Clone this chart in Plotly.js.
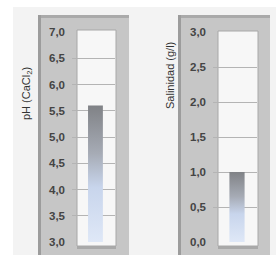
<!DOCTYPE html>
<html>
<head>
<meta charset="utf-8">
<script src="https://cdn.plot.ly/plotly-3.0.1.min.js"></script>
<style>html,body{margin:0;padding:0;background:#fff;}#chart{width:276px;height:255px;}</style>
</head>
<body>
<div id="chart"></div>
<script>
// Data
const phCategory = ['pH'];
const phValues = [5.6];
const salCategory = ['Salinidad'];
const salValues = [1.0];
const phTitle = 'pH (CaCl<sub>2</sub>)';
const salTitle = 'Salinidad (g/l)';
const phTicks = [3.0, 3.5, 4.0, 4.5, 5.0, 5.5, 6.0, 6.5, 7.0];
const salTicks = [0.0, 0.5, 1.0, 1.5, 2.0, 2.5, 3.0];

const W = 276, H = 255;
const px = x => x / W;
const py = y => 1 - y / H;
function rect(x0, y0, x1, y1, fill, line, lw) {
  return {type: 'rect', xref: 'paper', yref: 'paper', layer: 'below',
    x0: px(x0), x1: px(x1), y0: py(y1), y1: py(y0),
    fillcolor: fill, line: {color: line || fill, width: lw || 0}};
}
const shapes = [
  rect(13, 7, 276, 255, '#f3f3f3'),
  // left frame
  rect(38, 15, 129, 255, '#c6c6c6'),
  rect(38, 15, 129, 18, '#aaaaaa'),
  rect(38, 15, 41, 255, '#9c9c9c'),
  // right frame
  rect(178, 15, 270, 255, '#c6c6c6'),
  rect(178, 15, 270, 18, '#aaaaaa'),
  rect(178, 15, 181, 255, '#9c9c9c'),
  // tubes
  rect(77, 244, 116, 249, '#a9a9a9'),
  rect(77, 30, 116, 246, '#f7f7f7', '#a8a8a8', 1),
  rect(218, 244, 258, 249, '#a9a9a9'),
  rect(218, 31, 258, 246, '#f7f7f7', '#a8a8a8', 1)
];

const barStyle = {color: '#a0a8b8', line: {width: 0}};
const phBase = phTicks[0], salBase = salTicks[0];
const traces = [
  {type: 'bar', x: [0], y: phValues.map(v => v - phBase), base: [phBase], width: 0.38, marker: barStyle,
   xaxis: 'x', yaxis: 'y', hoverinfo: 'skip', name: phCategory[0]},
  {type: 'bar', x: [0], y: salValues.map(v => v - salBase), base: [salBase], width: 0.38, marker: barStyle,
   xaxis: 'x2', yaxis: 'y2', hoverinfo: 'skip', name: salCategory[0]}
];

const tickFont = {family: 'Liberation Sans, Arial, sans-serif', size: 11.5, color: '#444', weight: 'bold'};
const yCommon = {domain: [py(242), py(32)], dtick: 0.5, tickformat: '.1f', showgrid: true,
  gridcolor: '#b4b4b4', gridwidth: 1, zeroline: false, showline: false, ticks: '',
  ticklabelstandoff: 6, tickfont: tickFont, fixedrange: true};
const xCommon = {range: [-0.6, 0.5], showgrid: false, zeroline: false, showticklabels: false, showline: false, fixedrange: true};

const layout = {
  width: W, height: H,
  margin: {l: 0, r: 0, t: 0, b: 0},
  paper_bgcolor: '#ffffff', plot_bgcolor: 'rgba(0,0,0,0)',
  showlegend: false, separators: ', ',
  xaxis: Object.assign({}, xCommon, {domain: [px(72), px(115)], anchor: 'y'}),
  xaxis2: Object.assign({}, xCommon, {domain: [px(213), px(257)], anchor: 'y2'}),
  yaxis: Object.assign({}, yCommon, {range: [phTicks[0], phTicks[phTicks.length - 1]], anchor: 'x', tickvals: phTicks}),
  yaxis2: Object.assign({}, yCommon, {range: [salTicks[0], salTicks[salTicks.length - 1]], anchor: 'x2', tickvals: salTicks}),
  shapes: shapes,
  annotations: [
    {text: phTitle, xref: 'paper', yref: 'paper', x: px(27), y: py(94), textangle: -90,
     showarrow: false, xanchor: 'center', yanchor: 'middle',
     font: {family: 'Liberation Sans, Arial, sans-serif', size: 11, color: '#333'}},
    {text: salTitle, xref: 'paper', yref: 'paper', x: px(170), y: py(76), textangle: -90,
     showarrow: false, xanchor: 'center', yanchor: 'middle',
     font: {family: 'Liberation Sans, Arial, sans-serif', size: 11, color: '#333'}}
  ]
};

Plotly.newPlot('chart', traces, layout, {staticPlot: true, displayModeBar: false}).then(gd => {
  const svg = gd.querySelector('svg.main-svg');
  const ns = 'http://www.w3.org/2000/svg';
  let defs = svg.querySelector('defs');
  if (!defs) { defs = document.createElementNS(ns, 'defs'); svg.insertBefore(defs, svg.firstChild); }
  const g = document.createElementNS(ns, 'linearGradient');
  g.setAttribute('id', 'barGrad');
  g.setAttribute('x1', '0'); g.setAttribute('y1', '0'); g.setAttribute('x2', '0'); g.setAttribute('y2', '1');
  [['0', '#808286'], ['0.35', '#a6abb5'], ['0.6', '#c8d5ec'], ['1', '#dfe8f7']].forEach(([o, c]) => {
    const s = document.createElementNS(ns, 'stop');
    s.setAttribute('offset', o); s.setAttribute('stop-color', c);
    g.appendChild(s);
  });
  defs.appendChild(g);
  gd.querySelectorAll('.bars .point path').forEach(p => { p.style.fill = 'url(#barGrad)'; });
});
</script>
</body>
</html>
